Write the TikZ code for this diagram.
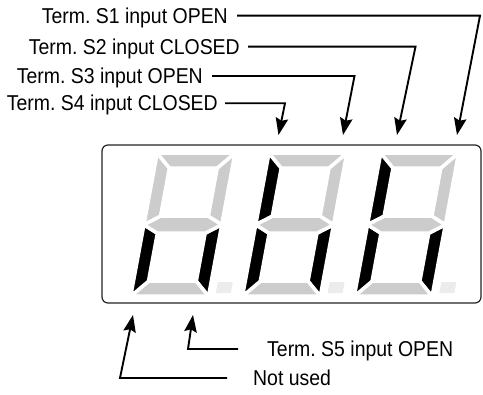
\documentclass[tikz,border=0pt]{standalone}
\usepackage{fontspec}
\setmainfont{Liberation Sans}[FakeStretch=0.905]
\usetikzlibrary{arrows.meta}
\frenchspacing
\definecolor{segoff}{RGB}{204,204,204}
\definecolor{dpcol}{RGB}{236,236,236}
\definecolor{framecol}{RGB}{35,35,35}
\newcommand{\sevseg}[8]{%
  \begin{scope}[shift={(#1,296.25)}, y=1pt, xslant=0.185]
    \filldraw[#2] (0,143) -- (77.8,143) -- (62.8,128) -- (15,128) -- cycle;
    \filldraw[#3] (77.8,143) -- (77.8,71.5) -- (62.8,80) -- (62.8,128) -- cycle;
    \filldraw[#4] (77.8,71.5) -- (77.8,0) -- (62.8,15) -- (62.8,63) -- cycle;
    \filldraw[#5] (0,0) -- (77.8,0) -- (62.8,15) -- (15,15) -- cycle;
    \filldraw[#6] (0,0) -- (0,71.5) -- (15,63) -- (15,15) -- cycle;
    \filldraw[#7] (0,71.5) -- (0,143) -- (15,128) -- (15,80) -- cycle;
    \filldraw[#8] (0,71.5) -- (15,80) -- (62.8,80) -- (77.8,71.5) -- (62.8,63) -- (15,63) -- cycle;
    \fill[dpcol] (84.5,3) rectangle (99.5,14);
  \end{scope}}
\begin{document}
\begin{tikzpicture}[x=1pt,y=-1pt,
  lbl/.style={font=\fontsize{21.5}{25}\selectfont\frenchspacing, inner ysep=0pt, text height=15.4pt, text depth=0pt},
  conn/.style={line width=1.9pt, line join=miter, -{Stealth[length=17pt,width=12.5pt,inset=2.5pt]}},
  seg/.style={draw=white, line width=3.5pt, line join=miter},
  lit/.style={seg, fill=black},
  unlit/.style={seg, fill=segoff},
  panel/.style={draw=framecol, line width=1.2pt, rounded corners=6pt}
]
\useasboundingbox (0,0) rectangle (483,395);

% display
\draw[panel] (102,145) rectangle (481,303);
\sevseg{130.7}{unlit}{unlit}{lit}{unlit}{lit}{unlit}{unlit}
\sevseg{242.5}{unlit}{unlit}{lit}{unlit}{lit}{lit}{unlit}
\sevseg{354.3}{unlit}{unlit}{lit}{unlit}{lit}{lit}{unlit}

% top labels
\node[lbl, anchor=east, inner xsep=9pt] (s1) at (237,15.7) {Term. S1 input OPEN};
\node[lbl, anchor=east, inner xsep=8pt] (s2) at (248,46.7) {Term. S2 input CLOSED};
\node[lbl, anchor=east, inner xsep=9pt] (s3) at (212,76) {Term. S3 input OPEN};
\node[lbl, anchor=east, inner xsep=7pt] (s4) at (225,103.3) {Term. S4 input CLOSED};

\coordinate (k1) at (480,15.7);   \coordinate (t1) at (457,135);
\coordinate (k2) at (415.5,46.7); \coordinate (t2) at (397,135);
\coordinate (k3) at (354.5,76);   \coordinate (t3) at (343,135);
\coordinate (k4) at (285,103.3);  \coordinate (t4) at (278.5,135);

\draw[conn] (s1.east) -- (k1) -- (t1);
\draw[conn] (s2.east) -- (k2) -- (t2);
\draw[conn] (s3.east) -- (k3) -- (t3);
\draw[conn] (s4.east) -- (k4) -- (t4);

% bottom labels
\node[lbl, anchor=west, inner xsep=29pt] (s5) at (238,349) {Term. S5 input OPEN};
\node[lbl, anchor=west, inner xsep=26pt] (nu) at (227,378) {Not used};

\coordinate (k5) at (188,349); \coordinate (t5) at (193,315);
\coordinate (k6) at (120,378); \coordinate (t6) at (133,315);

\draw[conn] (s5.west) -- (k5) -- (t5);
\draw[conn] (nu.west) -- (k6) -- (t6);
\end{tikzpicture}
\end{document}
